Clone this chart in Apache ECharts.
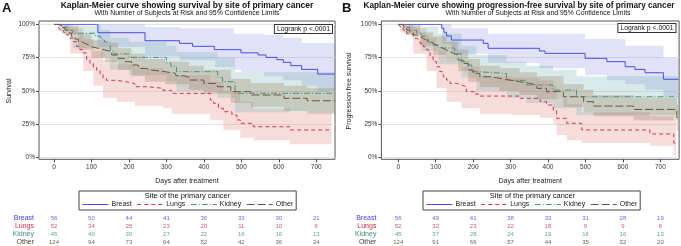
<!DOCTYPE html>
<html>
<head>
<meta charset="utf-8">
<script src="https://cdn.jsdelivr.net/npm/echarts@6/dist/echarts.min.js"></script>
<style>
html, body { margin: 0; padding: 0; background: #fff; }
#main { width: 681px; height: 246px; }
</style>
</head>
<body>
<div id="main"></div>
<script>
// groups and risk table
var groups = ['Breast', 'Lungs', 'Kidney', 'Other'];
var riskDays = [0, 100, 200, 300, 400, 500, 600, 700];
var riskA_Breast = [56, 50, 44, 41, 36, 33, 30, 21];
var riskA_Lungs = [52, 34, 25, 23, 20, 11, 10, 6];
var riskA_Kidney = [45, 40, 30, 27, 22, 16, 16, 13];
var riskA_Other = [124, 94, 73, 64, 52, 42, 36, 24];
var riskB_Breast = [56, 49, 41, 38, 33, 31, 28, 19];
var riskB_Lungs = [52, 32, 23, 22, 18, 9, 9, 6];
var riskB_Kidney = [45, 37, 28, 24, 19, 16, 16, 13];
var riskB_Other = [124, 91, 66, 57, 44, 35, 32, 20];

// A: overall survival, step curves (day, survival)
var osBreastT = [0, 117, 243, 335, 370, 428, 499, 545, 566, 595, 612, 632, 661, 704, 750];
var osBreastS = [1, 0.937, 0.877, 0.857, 0.835, 0.81, 0.786, 0.77, 0.752, 0.735, 0.715, 0.69, 0.662, 0.627, 0.627];
var osLungsT = [0, 11, 16, 25, 34, 43, 51, 60, 69, 78, 87, 96, 105, 114, 123, 131, 140, 167, 194, 216, 251, 291, 314, 417, 426, 439, 452, 475, 488, 497, 532, 630, 741];
var osLungsS = [1, 0.98, 0.96, 0.94, 0.92, 0.895, 0.87, 0.835, 0.81, 0.785, 0.735, 0.71, 0.675, 0.655, 0.63, 0.595, 0.58, 0.568, 0.555, 0.532, 0.52, 0.505, 0.482, 0.432, 0.408, 0.37, 0.345, 0.32, 0.283, 0.258, 0.232, 0.208, 0.208];
var osKidneyT = [0, 20, 35, 50, 110, 125, 135, 150, 160, 200, 300, 312, 327, 437, 450, 483, 748];
var osKidneyS = [1, 0.978, 0.956, 0.933, 0.911, 0.889, 0.867, 0.8, 0.778, 0.752, 0.711, 0.685, 0.645, 0.6, 0.57, 0.483, 0.483];
var osOtherT = [0, 10, 20, 29, 38, 47, 56, 65, 74, 83, 92, 100, 118, 136, 154, 171, 189, 207, 225, 243, 260, 296, 325, 345, 360, 400, 436, 472, 525, 614, 676, 750];
var osOtherS = [1, 0.99, 0.975, 0.957, 0.935, 0.907, 0.89, 0.87, 0.857, 0.845, 0.832, 0.82, 0.807, 0.795, 0.77, 0.745, 0.72, 0.695, 0.67, 0.657, 0.645, 0.632, 0.615, 0.603, 0.582, 0.557, 0.532, 0.495, 0.47, 0.445, 0.427, 0.427];

// A: 95% confidence bands
var osBreastBandT = [0, 117, 243, 335, 430, 480, 500, 560, 612, 661, 703, 750];
var osBreastLo = [1, 0.83, 0.76, 0.73, 0.68, 0.66, 0.64, 0.61, 0.58, 0.54, 0.5, 0.5];
var osBreastHi = [1, 1, 0.98, 0.97, 0.97, 0.93, 0.93, 0.92, 0.9, 0.86, 0.86, 0.86];
var osLungsBandT = [0, 11, 43, 78, 105, 131, 167, 216, 291, 314, 417, 452, 497, 532, 630, 741];
var osLungsLo = [1, 0.95, 0.78, 0.65, 0.54, 0.45, 0.42, 0.39, 0.37, 0.33, 0.28, 0.21, 0.15, 0.13, 0.1, 0.1];
var osLungsHi = [1, 1, 0.97, 0.89, 0.8, 0.73, 0.7, 0.67, 0.64, 0.62, 0.57, 0.5, 0.42, 0.37, 0.34, 0.34];
var osKidneyBandT = [0, 20, 50, 125, 150, 200, 300, 327, 437, 483, 748];
var osKidneyLo = [1, 0.93, 0.82, 0.75, 0.66, 0.62, 0.57, 0.5, 0.45, 0.34, 0.34];
var osKidneyHi = [1, 1, 0.99, 0.96, 0.9, 0.87, 0.84, 0.79, 0.75, 0.64, 0.64];
var osOtherBandT = [0, 29, 65, 100, 136, 171, 207, 243, 296, 360, 400, 472, 525, 614, 676, 750];
var osOtherLo = [1, 0.92, 0.81, 0.75, 0.72, 0.66, 0.61, 0.57, 0.55, 0.51, 0.48, 0.41, 0.38, 0.35, 0.33, 0.33];
var osOtherHi = [1, 0.99, 0.93, 0.88, 0.86, 0.82, 0.78, 0.74, 0.72, 0.69, 0.66, 0.59, 0.56, 0.54, 0.52, 0.52];

// B: progression-free survival
var pfsBreastT = [0, 116, 122, 129, 142, 227, 240, 377, 392, 499, 557, 606, 632, 659, 708, 748];
var pfsBreastS = [1, 0.97, 0.94, 0.912, 0.882, 0.857, 0.82, 0.8, 0.782, 0.745, 0.72, 0.682, 0.662, 0.637, 0.588, 0.588];
var pfsLungsT = [0, 5, 13, 22, 31, 40, 49, 58, 67, 76, 85, 93, 102, 111, 120, 129, 138, 156, 169, 182, 205, 218, 324, 379, 396, 414, 423, 450, 490, 672, 736, 742];
var pfsLungsS = [1, 0.982, 0.957, 0.932, 0.92, 0.895, 0.882, 0.857, 0.832, 0.807, 0.757, 0.72, 0.682, 0.645, 0.607, 0.582, 0.557, 0.545, 0.532, 0.495, 0.477, 0.462, 0.445, 0.42, 0.395, 0.357, 0.295, 0.258, 0.208, 0.178, 0.11, 0.11];
var pfsKidneyT = [0, 15, 31, 49, 62, 80, 93, 107, 151, 169, 187, 196, 209, 289, 342, 413, 476, 748];
var pfsKidneyS = [1, 0.978, 0.956, 0.933, 0.911, 0.867, 0.844, 0.822, 0.778, 0.72, 0.695, 0.645, 0.632, 0.58, 0.545, 0.507, 0.457, 0.457];
var pfsOtherT = [0, 8, 15, 22, 31, 40, 49, 58, 67, 76, 85, 93, 102, 111, 120, 129, 138, 147, 160, 173, 187, 200, 218, 245, 271, 298, 324, 351, 370, 396, 441, 495, 521, 628, 744, 748];
var pfsOtherS = [1, 0.99, 0.975, 0.957, 0.94, 0.92, 0.907, 0.895, 0.882, 0.87, 0.857, 0.845, 0.832, 0.82, 0.807, 0.795, 0.782, 0.77, 0.732, 0.707, 0.657, 0.632, 0.607, 0.595, 0.582, 0.57, 0.557, 0.545, 0.52, 0.495, 0.457, 0.42, 0.387, 0.362, 0.3, 0.3];

var pfsBreastBandT = [0, 116, 142, 240, 377, 499, 557, 606, 659, 708, 748];
var pfsBreastLo = [1, 0.85, 0.78, 0.71, 0.67, 0.62, 0.58, 0.55, 0.51, 0.46, 0.46];
var pfsBreastHi = [1, 1, 0.97, 0.93, 0.93, 0.89, 0.89, 0.84, 0.84, 0.75, 0.75];
var pfsLungsBandT = [0, 5, 40, 76, 102, 129, 169, 218, 302, 379, 414, 423, 450, 490, 672, 736, 742];
var pfsLungsLo = [1, 0.94, 0.78, 0.65, 0.52, 0.42, 0.37, 0.33, 0.32, 0.3, 0.25, 0.17, 0.13, 0.11, 0.09, 0.02, 0.02];
var pfsLungsHi = [1, 1, 0.97, 0.9, 0.81, 0.72, 0.68, 0.61, 0.6, 0.58, 0.54, 0.44, 0.4, 0.34, 0.31, 0.28, 0.28];
var pfsKidneyBandT = [0, 15, 62, 107, 169, 209, 289, 342, 413, 476, 748];
var pfsKidneyLo = [1, 0.93, 0.8, 0.7, 0.6, 0.5, 0.45, 0.41, 0.37, 0.32, 0.32];
var pfsKidneyHi = [1, 1, 0.98, 0.93, 0.84, 0.77, 0.72, 0.69, 0.66, 0.61, 0.61];
var pfsOtherBandT = [0, 22, 58, 93, 129, 160, 187, 218, 271, 324, 370, 441, 495, 521, 628, 744, 748];
var pfsOtherLo = [1, 0.92, 0.84, 0.77, 0.72, 0.65, 0.57, 0.53, 0.5, 0.47, 0.44, 0.38, 0.34, 0.31, 0.28, 0.2, 0.2];
var pfsOtherHi = [1, 0.99, 0.94, 0.91, 0.87, 0.81, 0.74, 0.69, 0.67, 0.64, 0.61, 0.55, 0.51, 0.47, 0.45, 0.4, 0.4];

var FONT = 'Arial, "Liberation Sans", sans-serif';
var lineColor = { Breast: '#4b4be6', Lungs: '#c8394b', Kidney: '#4e9284', Other: '#6e5638' };
var textColor = { Breast: '#3e3ee8', Lungs: '#c42f40', Kidney: '#3c8a7a', Other: '#4a3a2a' };
var bandColor = {
  Breast: 'rgba(105,105,215,0.2)',
  Lungs: 'rgba(225,115,115,0.25)',
  Kidney: 'rgba(105,170,170,0.25)',
  Other: 'rgba(150,118,78,0.28)'
};
var dash = { Breast: 'solid', Lungs: [4, 3], Kidney: [6, 2, 1, 2], Other: [8, 3] };

function zip(t, s) {
  return t.map(function (v, i) { return [v, s[i]]; });
}

function curve(name, axis, t, s) {
  return {
    type: 'line', name: name, xAxisIndex: axis, yAxisIndex: axis,
    step: 'end', symbol: 'none', z: 5, animation: false,
    data: zip(t, s),
    lineStyle: { color: lineColor[name], width: 1, type: dash[name] },
    itemStyle: { color: lineColor[name] }
  };
}

function band(name, axis, T, lo, hi) {
  return {
    type: 'custom', name: name + ' CL', xAxisIndex: axis, yAxisIndex: axis,
    silent: true, z: 2, animation: false,
    data: T.map(function (t, i) { return [t, lo[i], hi[i]]; }),
    renderItem: function (params, api) {
      if (params.dataIndex !== 0) return;
      var up = [], dn = [];
      for (var i = 0; i < T.length; i++) {
        var tn = i < T.length - 1 ? T[i + 1] : T[i];
        up.push(api.coord([T[i], hi[i]]), api.coord([tn, hi[i]]));
        dn.push(api.coord([T[i], lo[i]]), api.coord([tn, lo[i]]));
      }
      return { type: 'polygon', shape: { points: up.concat(dn.reverse()) }, style: { fill: bandColor[name] } };
    }
  };
}

function risk(name, axis, counts) {
  return {
    type: 'scatter', name: name + ' at risk', xAxisIndex: axis, yAxisIndex: axis,
    symbolSize: 1, itemStyle: { color: 'rgba(0,0,0,0)' }, silent: true, animation: false,
    data: riskDays.map(function (d, i) { return [d, name, counts[i]]; }),
    label: {
      show: true, position: 'inside', formatter: function (p) { return p.value[2]; },
      color: textColor[name], fontSize: 6, fontFamily: FONT
    }
  };
}

var tickVals = [0, 100, 200, 300, 400, 500, 600, 700];

function panelAxes(xmin, yName, nameGap) {
  var xs = [
    { gridIndex: 0, type: 'value', min: xmin, max: 750,
      axisLine: { show: false, onZero: false }, splitLine: { show: false },
      axisTick: { show: true, length: 3, customValues: tickVals, lineStyle: { color: '#444' } },
      axisLabel: { customValues: tickVals, fontSize: 6.5, color: '#333', margin: 4, fontFamily: FONT },
      name: 'Days after treatment', nameLocation: 'middle', nameGap: 18,
      nameTextStyle: { fontSize: 7, color: '#222', fontFamily: FONT } },
    { gridIndex: 1, type: 'value', min: xmin, max: 750, show: false },
    { gridIndex: 2, type: 'value', min: xmin, max: 750, show: false }
  ];
  var ys = [
    { gridIndex: 0, type: 'value', min: 0, max: 1, show: false },
    { gridIndex: 1, type: 'value', min: 0, max: 1, interval: 0.25,
      axisLine: { show: false, onZero: false },
      axisTick: { show: true, length: 3, lineStyle: { color: '#444' } },
      splitLine: { show: true, lineStyle: { color: '#e4e4e4', width: 1 } },
      axisLabel: { fontSize: 6.5, color: '#333', margin: 4, fontFamily: FONT,
        formatter: function (v) { return Math.round(v * 100) + '%'; } },
      name: yName, nameLocation: 'middle', nameGap: nameGap,
      nameTextStyle: { fontSize: 7, color: '#222', fontFamily: FONT } },
    { gridIndex: 2, type: 'category', inverse: true, data: groups,
      axisLine: { show: false, onZero: false }, axisTick: { show: false }, splitLine: { show: false },
      axisLabel: { interval: 0, fontSize: 7, margin: 5, fontFamily: FONT,
        color: function (v) { return textColor[v]; } } }
  ];
  return { xs: xs, ys: ys };
}

var axA = panelAxes(-40, 'Survival', 26);
var axB = panelAxes(-45, 'Progression free survival', 29);
axB.xs.forEach(function (a) { a.gridIndex += 3; });
axB.ys.forEach(function (a) { a.gridIndex += 3; });

var series = [
  curve('Breast', 1, osBreastT, osBreastS),
  curve('Lungs', 1, osLungsT, osLungsS),
  curve('Kidney', 1, osKidneyT, osKidneyS),
  curve('Other', 1, osOtherT, osOtherS),
  curve('Breast', 4, pfsBreastT, pfsBreastS),
  curve('Lungs', 4, pfsLungsT, pfsLungsS),
  curve('Kidney', 4, pfsKidneyT, pfsKidneyS),
  curve('Other', 4, pfsOtherT, pfsOtherS),
  band('Breast', 1, osBreastBandT, osBreastLo, osBreastHi),
  band('Lungs', 1, osLungsBandT, osLungsLo, osLungsHi),
  band('Kidney', 1, osKidneyBandT, osKidneyLo, osKidneyHi),
  band('Other', 1, osOtherBandT, osOtherLo, osOtherHi),
  band('Breast', 4, pfsBreastBandT, pfsBreastLo, pfsBreastHi),
  band('Lungs', 4, pfsLungsBandT, pfsLungsLo, pfsLungsHi),
  band('Kidney', 4, pfsKidneyBandT, pfsKidneyLo, pfsKidneyHi),
  band('Other', 4, pfsOtherBandT, pfsOtherLo, pfsOtherHi),
  risk('Breast', 2, riskA_Breast),
  risk('Lungs', 2, riskA_Lungs),
  risk('Kidney', 2, riskA_Kidney),
  risk('Other', 2, riskA_Other),
  risk('Breast', 5, riskB_Breast),
  risk('Lungs', 5, riskB_Lungs),
  risk('Kidney', 5, riskB_Kidney),
  risk('Other', 5, riskB_Other)
];

function txt(x, y, text, font, align, extra) {
  var st = { text: text, font: font, fill: '#111', align: align, verticalAlign: 'middle',
             textAlign: align, textVerticalAlign: 'middle' };
  if (extra) for (var k in extra) st[k] = extra[k];
  return { type: 'text', x: x, y: y, z: 100, silent: true, style: st };
}

function legend(left) {
  return {
    data: groups, left: left, top: 191, orient: 'horizontal',
    itemWidth: 26, itemHeight: 7, itemGap: 5,
    padding: [10, 3, 2, 3], borderColor: '#444', borderWidth: 1,
    selectedMode: false,
    itemStyle: { opacity: 0 },
    lineStyle: { width: 1 },
    textStyle: { fontSize: 7, color: '#222', fontFamily: FONT, padding: [0, 0, 0, -2] }
  };
}

var option = {
  backgroundColor: '#fff',
  animation: false,
  grid: [
    { left: 39, top: 21, width: 296, height: 138.3, show: true, borderColor: '#555', borderWidth: 1, backgroundColor: 'transparent' },
    { left: 39, top: 24.3, width: 296, height: 133.4 },
    { left: 39, top: 214.2, width: 296, height: 32.4 },
    { left: 381.4, top: 21, width: 297.7, height: 138.3, show: true, borderColor: '#555', borderWidth: 1, backgroundColor: 'transparent' },
    { left: 381.4, top: 24.3, width: 297.7, height: 133.4 },
    { left: 381.4, top: 214.2, width: 297.7, height: 32.4 }
  ],
  xAxis: axA.xs.concat(axB.xs),
  yAxis: axA.ys.concat(axB.ys),
  legend: [legend(79), legend(423)],
  series: series,
  graphic: [
    txt(2, 8, 'A', 'bold 13px ' + FONT, 'left'),
    txt(187, 5.5, 'Kaplan-Meier curve showing survival by site of primary cancer', 'bold 8.5px ' + FONT, 'center'),
    txt(187, 13.5, 'With Number of Subjects at Risk and 95% Confidence Limits', '6.9px ' + FONT, 'center'),
    txt(342, 8, 'B', 'bold 13px ' + FONT, 'left'),
    txt(519, 5.5, 'Kaplan-Meier curve showing progression-free survival by site of primary cancer', 'bold 8.2px ' + FONT, 'center'),
    txt(538, 13.5, 'With Number of Subjects at Risk and 95% Confidence Limits', '6.9px ' + FONT, 'center'),
    txt(332, 29, 'Logrank p <.0001', '6.8px ' + FONT, 'right',
        { padding: [1, 2, 0, 2], borderColor: '#333', borderWidth: 1, backgroundColor: '#fff' }),
    txt(675.5, 28, 'Logrank p <.0001', '6.8px ' + FONT, 'right',
        { padding: [1, 2, 0, 2], borderColor: '#333', borderWidth: 1, backgroundColor: '#fff' }),
    txt(187.5, 196, 'Site of the primary cancer', '7.5px ' + FONT, 'center'),
    txt(532.5, 196, 'Site of the primary cancer', '7.5px ' + FONT, 'center')
  ]
};

var chart = echarts.init(document.getElementById('main'), null, { renderer: 'canvas' });
chart.setOption(option);
</script>
</body>
</html>
